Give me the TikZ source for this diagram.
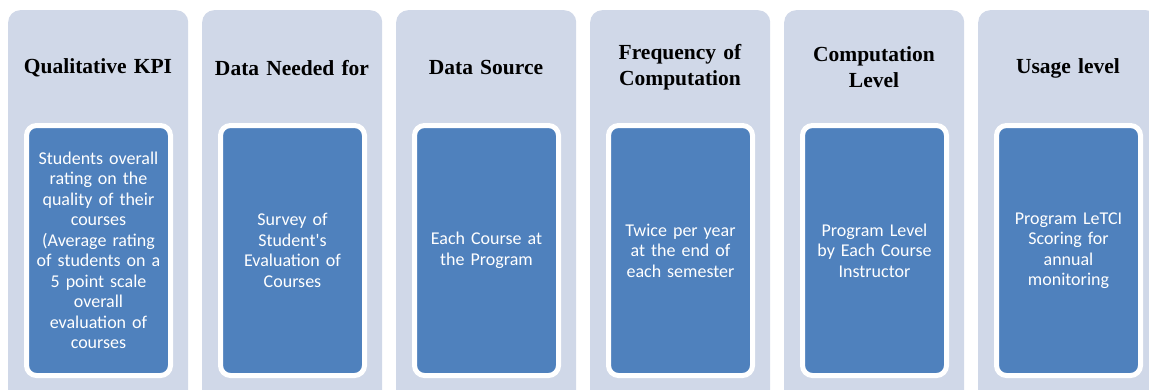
\documentclass[tikz,border=0pt]{standalone}
\usepackage{fontspec}
\setmainfont{Liberation Serif}
\newfontfamily\boxfont{Carlito}
\usetikzlibrary{positioning}

\definecolor{backgray}{RGB}{208,216,232}
\definecolor{boxblue}{RGB}{79,129,189}

\tikzset{
  colback/.style={fill=backgray,rounded corners=12pt,minimum width=180pt,minimum height=400pt,anchor=north west,inner sep=0pt},
  colhead/.style={font=\fontsize{21.5}{26}\selectfont\bfseries,align=center,text width=180pt,inner sep=0pt},
  colbox/.style={fill=boxblue,draw=white,line width=5pt,rounded corners=10pt,minimum width=144pt,minimum height=250pt,
    text width=136pt,inner sep=0pt,align=center,text=white,font=\boxfont\fontsize{18}{20.5}\selectfont}
}

\begin{document}
\begin{tikzpicture}[x=1pt,y=-1pt]
\useasboundingbox (0,0) rectangle (1149,389);
\clip (0,0) rectangle (1149,389);
\fill[white] (0,0) rectangle (1149,389);

% column 1
\node[colback] (kpiback) at (8,10) {};
\node[colhead] (kpihead) at (98,68) {Qualitative KPI};
\node[colbox] (kpibox) at (98.5,250.5) {Students overall\\rating on the\\quality of their\\courses\\(Average rating\\of students on a\\5 point scale\\overall\\evaluation of\\courses};

% column 2
\node[colback] (databack) at (202,10) {};
\node[colhead] (datahead) at (292,68) {Data Needed for};
\node[colbox] (databox) at (292.5,250.5) {Survey of\\Student's\\Evaluation of\\Courses};

% column 3
\node[colback] (srcback) at (396,10) {};
\node[colhead] (srchead) at (486,68) {Data Source};
\node[colbox] (srcbox) at (486.5,250.5) {Each Course at\\the Program};

% column 4
\node[colback] (freqback) at (590,10) {};
\node[colhead] (freqhead) at (680,67) {Frequency of\\Computation};
\node[colbox] (freqbox) at (680.5,250.5) {Twice per year\\at the end of\\each semester};

% column 5
\node[colback] (levelback) at (784,10) {};
\node[colhead] (levelhead) at (874,67) {Computation\\Level};
\node[colbox] (levelbox) at (874.5,250.5) {Program Level\\by Each Course\\Instructor};

% column 6
\node[colback] (useback) at (978,10) {};
\node[colhead] (usehead) at (1068,68) {Usage level};
\node[colbox] (usebox) at (1068.5,250.5) {Program LeTCI\\Scoring for\\annual\\monitoring};
\end{tikzpicture}
\end{document}
